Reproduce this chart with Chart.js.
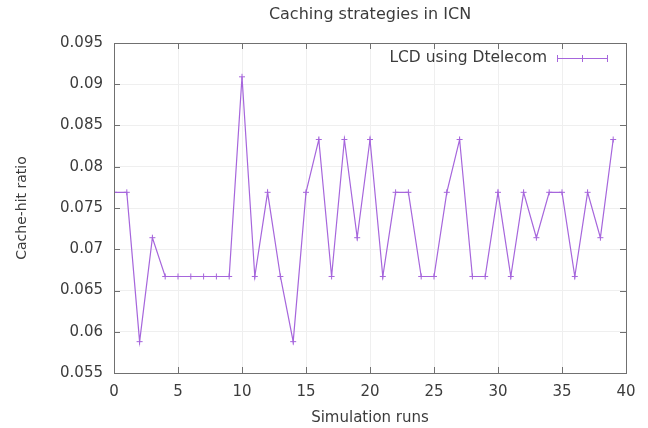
<!DOCTYPE html>
<html><head><meta charset="utf-8">
<script src="https://cdn.jsdelivr.net/npm/chart.js@4"></script>
<style>html,body{margin:0;padding:0;background:#fff}#wrap{width:648px;height:428px}</style>
</head><body><div id="wrap"><canvas id="c" width="648" height="428"></canvas></div>
<script>
const runs = [0,1,2,3,4,5,6,7,8,9,10,11,12,13,14,15,16,17,18,19,20,21,22,23,24,25,26,27,28,29,30,31,32,33,34,35,36,37,38,39];
const hitRatio = [0.0769,0.0769,0.0588,0.0714,0.0667,0.0667,0.0667,0.0667,0.0667,0.0667,
  0.0909,0.0667,0.0769,0.0667,0.0588,0.0769,0.0833,0.0667,0.0833,0.0714,
  0.0833,0.0667,0.0769,0.0769,0.0667,0.0667,0.0769,0.0833,0.0667,0.0667,
  0.0769,0.0667,0.0769,0.0714,0.0769,0.0769,0.0667,0.0769,0.0714,0.0833];
const xTicks = [0,5,10,15,20,25,30,35,40];
const yTicks = [0.055,0.06,0.065,0.07,0.075,0.08,0.085,0.09,0.095];
const seriesName = 'LCD using Dtelecom';
const chartTitle = 'Caching strategies in ICN';
const xTitle = 'Simulation runs';
const yTitle = 'Cache-hit ratio';

const lineColor = '#a666dc';
const textColor = '#3c3c3c';
const FONT = '"DejaVu Sans", Verdana, sans-serif';

const decor = {
  id: 'decor',
  afterDraw(chart) {
    const ctx = chart.ctx, a = chart.chartArea;
    const xs = chart.scales.x, ys = chart.scales.y;
    ctx.save();
    ctx.strokeStyle = '#707070'; ctx.lineWidth = 1;
    ctx.strokeRect(a.left + 0.5, a.top + 0.5, a.right - a.left, a.bottom - a.top);
    ctx.beginPath();
    xTicks.forEach(v => {
      const px = Math.round(xs.getPixelForValue(v)) + 0.5;
      ctx.moveTo(px, a.bottom); ctx.lineTo(px, a.bottom - 6);
      ctx.moveTo(px, a.top); ctx.lineTo(px, a.top + 6);
    });
    yTicks.forEach(v => {
      const py = Math.round(ys.getPixelForValue(v)) + 0.5;
      ctx.moveTo(a.left, py); ctx.lineTo(a.left + 6, py);
      ctx.moveTo(a.right, py); ctx.lineTo(a.right - 6, py);
    });
    ctx.stroke();
    ctx.fillStyle = textColor;
    ctx.font = '16px ' + FONT;
    ctx.textAlign = 'center'; ctx.textBaseline = 'middle';
    ctx.fillText(chartTitle, (a.left + a.right) / 2, 15);
    ctx.font = '15.5px ' + FONT;
    ctx.textAlign = 'right';
    const ly = 58;
    ctx.fillText(seriesName, 547, ly);
    const x0 = 557, x1 = 607;
    ctx.strokeStyle = lineColor; ctx.lineWidth = 1;
    ctx.beginPath();
    ctx.moveTo(x0, ly + 0.5); ctx.lineTo(x1, ly + 0.5);
    [x0, (x0 + x1) / 2, x1].forEach(px => {
      ctx.moveTo(px + 0.5, ly - 3); ctx.lineTo(px + 0.5, ly + 4);
    });
    ctx.stroke();
    ctx.restore();
  }
};

new Chart(document.getElementById('c'), {
  type: 'line',
  data: {
    datasets: [{
      label: seriesName,
      data: runs.map((r, i) => ({x: r, y: hitRatio[i]})),
      borderColor: lineColor,
      backgroundColor: lineColor,
      borderWidth: 1.2,
      pointStyle: 'cross',
      pointRadius: 3,
      pointBorderWidth: 1,
      pointBorderColor: lineColor,
      tension: 0,
      fill: false
    }]
  },
  options: {
    responsive: false,
    animation: false,
    layout: { padding: { top: 43, right: 22, left: 0, bottom: 0 } },
    plugins: { legend: { display: false }, title: { display: false }, tooltip: { enabled: false } },
    scales: {
      x: {
        type: 'linear', min: 0, max: 40,
        afterBuildTicks: s => { s.ticks = xTicks.map(v => ({value: v})); },
        afterFit: s => { s.height = 55; },
        grid: { color: '#efefef', drawTicks: false },
        border: { display: false },
        ticks: { color: textColor, font: { size: 15, family: FONT }, padding: 10, maxRotation: 0,
                 callback: v => String(v) },
        title: { display: true, text: xTitle, color: textColor, font: { size: 15, family: FONT }, padding: { top: 0, bottom: 1 } }
      },
      y: {
        type: 'linear', min: 0.055, max: 0.095,
        afterBuildTicks: s => { s.ticks = yTicks.map(v => ({value: v})); },
        afterFit: s => { s.width = 114; },
        grid: { color: '#efefef', drawTicks: false },
        border: { display: false },
        ticks: { color: textColor, font: { size: 15, family: FONT }, padding: 11,
                 callback: v => String(Number(v.toFixed(3))) },
        title: { display: true, text: yTitle, color: textColor, font: { size: 14, family: FONT }, padding: { top: 14, bottom: 0 } }
      }
    }
  },
  plugins: [decor]
});
</script>
</body></html>
